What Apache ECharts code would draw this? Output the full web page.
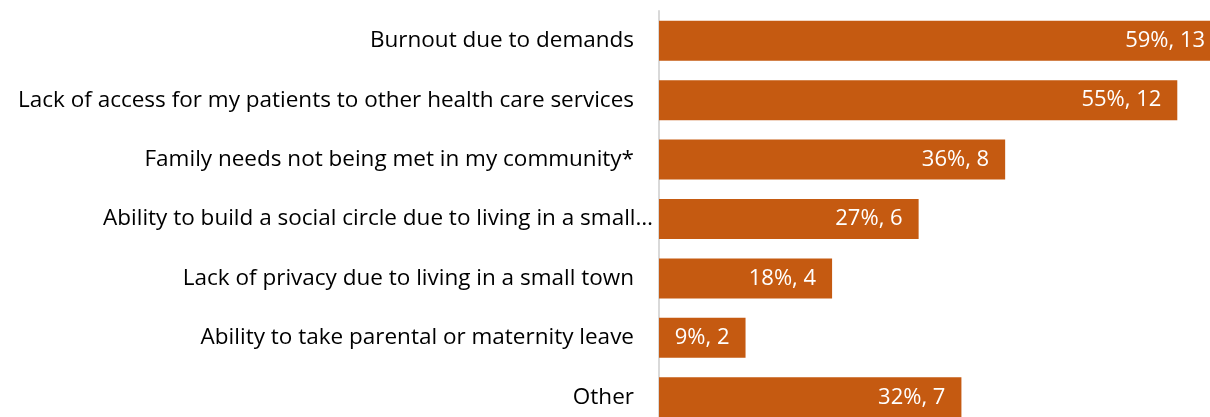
<!DOCTYPE html>
<html>
<head>
<meta charset="utf-8">
<script src="https://cdn.jsdelivr.net/npm/echarts@6/dist/echarts.min.js"></script>
<style>html,body{margin:0;padding:0;background:#fff}#c{width:1210px;height:417px}</style>
</head>
<body>
<div id="c"></div>
<script>
const categories = [
  "Burnout due to demands",
  "Lack of access for my patients to other health care services",
  "Family needs not being met in my community*",
  "Ability to build a social circle due to living in a small…",
  "Lack of privacy due to living in a small town",
  "Ability to take parental or maternity leave",
  "Other"
];
const percentValues = [59.1, 54.5, 36.4, 27.3, 18.2, 9.1, 31.8];
const percentLabels = ["59%", "55%", "36%", "27%", "18%", "9%", "32%"];
const countLabels = ["13", "12", "8", "6", "4", "2", "7"];
const truncatedIndex = 3;

const chart = echarts.init(document.getElementById('c'), null, {renderer: 'canvas'});
const FONT = '"Open Sans", "Noto Sans", sans-serif';
chart.setOption({
  animation: false,
  grid: {left: 659, top: 11, width: 951, height: 416, containLabel: false, outerBoundsMode: 'none'},
  xAxis: {
    type: 'value', min: 0, max: 100,
    show: false
  },
  yAxis: {
    type: 'category',
    data: categories,
    inverse: true,
    axisLine: {show: true, lineStyle: {color: '#d9d9d9', width: 2}},
    axisTick: {show: false},
    splitLine: {show: false},
    axisLabel: {
      margin: 6,
      color: '#000',
      fontFamily: FONT,
      fontSize: 22.5,
      formatter: function (v, i) {
        return i === truncatedIndex ? '{e|' + v + '}' : '{n|' + v + '}';
      },
      rich: {
        n: {fontFamily: FONT, fontSize: 22.5, color: '#000', padding: [0, 19, 0, 0]},
        e: {fontFamily: FONT, fontSize: 22.5, color: '#000'}
      }
    }
  },
  series: [{
    type: 'bar',
    data: percentValues,
    barWidth: 40,
    itemStyle: {color: '#C55A11'},
    label: {
      show: true,
      position: 'insideRight',
      distance: 16,
      color: '#fff',
      fontFamily: FONT,
      fontSize: 22,
      formatter: function (p) {
        return percentLabels[p.dataIndex] + ', ' + countLabels[p.dataIndex];
      }
    }
  }]
});
</script>
</body>
</html>
